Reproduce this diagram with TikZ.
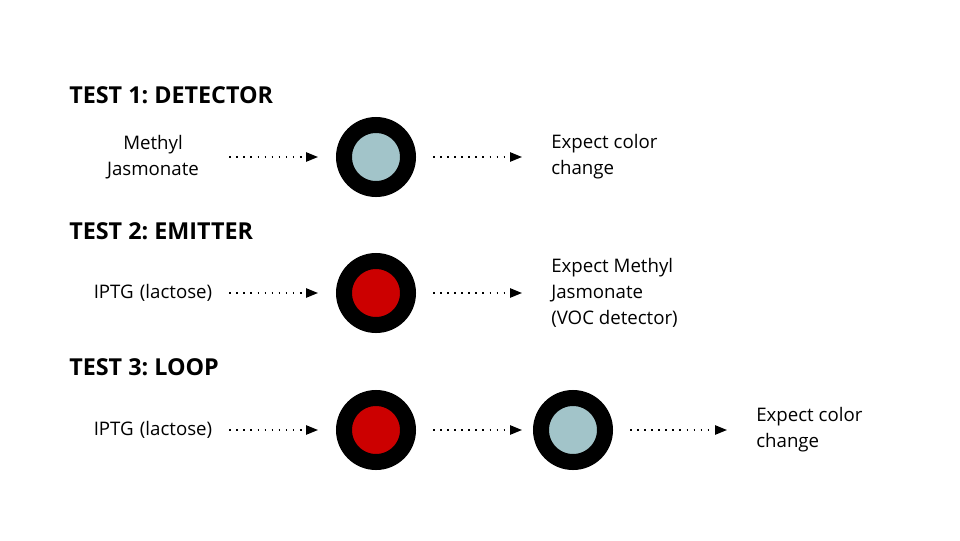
\documentclass[tikz,border=0pt]{standalone}
\usepackage{fontspec}
\setmainfont{Open Sans}
\usepackage{xcolor}
\usetikzlibrary{arrows.meta,positioning}
\definecolor{cellblue}{RGB}{162,196,201}
\definecolor{cellred}{RGB}{204,0,0}
\frenchspacing

\tikzset{
  cell/.style={circle, draw=black, line width=12pt, minimum size=48pt, inner sep=0pt},
  input/.style={align=center, text width=114pt, inner sep=0pt, font=\fontsize{14}{19.5}\selectfont},
  output/.style={align=left, anchor=west, inner sep=0pt, font=\fontsize{14}{19.5}\selectfont},
  heading/.style={anchor=base west, inner sep=0pt, font=\fontsize{17.5}{22}\selectfont\bfseries},
  flow/.style={-{Triangle[length=9pt,width=7pt]}, line width=1.2pt, dash pattern=on 1.2pt off 4.1pt}
}

\begin{document}
\begin{tikzpicture}[x=0.75pt, y=-0.75pt]
    \useasboundingbox (0,0) rectangle (960,540);
    % test 1
    \node[heading] (h1) at (69,103) {TEST 1: DETECTOR};
    \node[input] (in1) at (153,157) {Methyl\\Jasmonate};
    \node[cell, fill=cellblue] (det1) at (376,157) {};
    \node[output] (out1) at (551,157) {Expect color\\change};
    \draw[flow, shorten >=13.5pt] (in1) -- (det1);
    \draw[flow, shorten <=12.75pt, shorten >=21.75pt] (det1) -- (out1);
    % test 2
    \node[heading] (h2) at (69,239) {TEST 2: EMITTER};
    \node[input] (in2) at (153,293) {IPTG (lactose)};
    \node[cell, fill=cellred] (emi2) at (376,293) {};
    \node[output] (out2) at (551,293) {Expect Methyl\\Jasmonate\\(VOC detector)};
    \draw[flow, shorten >=13.5pt] (in2) -- (emi2);
    \draw[flow, shorten <=12.75pt, shorten >=21.75pt] (emi2) -- (out2);
    % test 3
    \node[heading] (h3) at (69,375) {TEST 3: LOOP};
    \node[input] (in3) at (153,430) {IPTG (lactose)};
    \node[cell, fill=cellred] (emi3) at (376,430) {};
    \node[cell, fill=cellblue] (det3) at (573,430) {};
    \node[output] (out3) at (756,430) {Expect color\\change};
    \draw[flow, shorten >=13.5pt] (in3) -- (emi3);
    \draw[flow, shorten <=12.75pt, shorten >=8.25pt] (emi3) -- (det3);
    \draw[flow, shorten <=12.75pt, shorten >=21.75pt] (det3) -- (out3);
\end{tikzpicture}
\end{document}
